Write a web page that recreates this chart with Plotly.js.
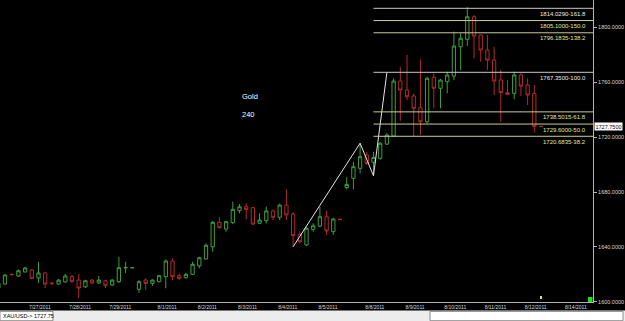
<!DOCTYPE html>
<html><head><meta charset="utf-8">
<script src="https://cdn.plot.ly/plotly-3.0.1.min.js"></script>
<style>html,body{margin:0;padding:0;background:#000;}#chart{width:625px;height:321px;}</style>
</head><body><div id="chart"></div>
<script>
// ---- data ----
const opens  = [1610.0,1612.9,1620.0,1618.7,1621.7,1623.1,1617.3,1621.0,1613.6,1612.9,
                1614.4,1618.3,1615.8,1610.9,1615.8,1613.7,1615.3,1612.2,1614.6,1624.6,
                1624.7,1609.1,1615.8,1613.4,1614.6,1618.3,1629.7,1619.0,1617.5,1620.0,
                1626.1,1631.2,1640.1,1657.9,1653.0,1657.7,1666.4,1669.3,1668.6,1657.2,
                1659.1,1666.2,1661.6,1670.5,1664.0,1649.2,1641.4,1652.8,1655.2,1662.0,
                1651.1,1660.2,1683.2,1690.0,1697.3,1707.0,1701.7,1704.6,1715.0,1720.9,
                1761.0,1754.4,1750.1,1741.5,1731.3,1763.7,1755.7,1760.5,1764.6,1786.0,
                1791.4,1807.9,1794.6,1783.6,1776.3,1761.7,1752.5,1752.0,1765.4,1758.1,
                1752.0,1727.9];
const highs  = [1614.2,1620.0,1620.4,1623.5,1625.5,1623.6,1629.0,1621.5,1614.3,1616.5,
                1620.2,1619.5,1620.2,1616.0,1616.5,1618.8,1616.0,1616.5,1632.8,1629.2,
                1625.2,1615.8,1617.1,1616.3,1619.5,1630.9,1631.7,1620.7,1621.2,1629.2,
                1632.8,1642.6,1658.9,1661.6,1658.9,1673.0,1671.3,1671.8,1669.3,1664.5,
                1669.3,1667.4,1671.5,1682.0,1665.4,1651.1,1654.7,1657.2,1669.3,1666.4,
                1661.0,1660.6,1690.8,1702.1,1715.6,1709.4,1709.4,1716.5,1722.9,1763.0,
                1771.4,1780.0,1752.0,1776.8,1764.1,1766.6,1762.5,1767.8,1797.0,1795.8,
                1814.8,1809.1,1795.0,1794.6,1786.0,1769.0,1761.7,1767.8,1766.6,1763.0,
                1758.1,1728.3];
const lows   = [1609.5,1612.4,1619.5,1618.2,1621.4,1616.8,1613.7,1610.0,1612.5,1612.5,
                1614.0,1614.0,1602.7,1610.0,1613.0,1613.0,1610.0,1611.5,1613.7,1621.0,
                1624.5,1606.6,1608.6,1611.5,1614.0,1609.8,1615.8,1615.8,1617.0,1619.5,
                1624.4,1630.8,1636.5,1653.5,1651.1,1656.7,1664.5,1660.1,1656.0,1656.7,
                1657.2,1659.6,1659.6,1659.6,1640.1,1642.6,1640.8,1651.1,1654.3,1648.7,
                1648.7,1659.6,1682.0,1682.0,1693.7,1699.7,1691.85,1703.5,1714.3,1720.4,
                1732.0,1747.1,1720.4,1721.6,1730.1,1741.1,1741.1,1752.0,1761.7,1769.0,
                1786.5,1777.6,1775.1,1769.0,1750.8,1731.3,1751.0,1747.7,1750.0,1743.5,
                1723.3,1727.5];
const closes = [1613.7,1619.5,1619.7,1622.6,1624.6,1617.1,1621.0,1612.9,1613.2,1615.8,
                1618.8,1614.6,1610.0,1615.3,1613.7,1615.8,1611.7,1615.8,1624.8,1625.0,
                1624.9,1614.6,1613.4,1615.8,1619.0,1629.7,1618.3,1617.1,1620.0,1627.3,
                1632.1,1641.2,1657.9,1654.0,1658.4,1667.4,1669.3,1667.4,1656.7,1659.6,
                1666.2,1661.6,1670.5,1663.3,1648.2,1643.8,1653.6,1655.4,1662.0,1651.6,
                1660.4,1659.9,1685.6,1698.5,1705.8,1700.9,1705.3,1715.6,1721.6,1761.0,
                1754.4,1749.5,1741.1,1731.3,1763.0,1755.7,1761.7,1765.4,1786.5,1792.2,
                1807.9,1793.8,1783.6,1776.3,1761.0,1752.5,1751.3,1765.4,1757.3,1750.8,
                1727.7,1727.75];

const dayLabels = ['7/27/2011','7/28/2011','7/29/2011','8/1/2011','8/2/2011','8/3/2011','8/4/2011',
                   '8/5/2011','8/8/2011','8/9/2011','8/10/2011','8/11/2011','8/12/2011','8/14/2011'];
const dayStarts = [5,11,17,24,30,36,42,48,55,61,67,73,79,85];

const priceTicks = [1600,1640,1680,1720,1760,1800];

const fibLevels = [1814.0290,1805.1000,1796.1835,1767.3500,1738.5015,1729.6000,1720.6835];
const fibRatios = ['161.8','150.0','138.2','100.0','61.8','50.0','38.2'];

const zigIdx   = [44,54,56,58];
const zigPrice = [1640.1,1715.6,1691.85,1767.35];

const symbol = 'XAU/USD';
const titleLines = ['Gold','240'];

// ---- drawing ----
const xIdx = closes.map((_, i) => i);
const xMin = 0.254, xMax = 88.76;
const last = closes.length - 1;
const FONT = 'Liberation Sans, Arial, sans-serif';

const candles = {
  type: 'candlestick', x: xIdx, open: opens, high: highs, low: lows, close: closes,
  increasing: {line: {color: '#3e9e3e', width: 1}, fillcolor: '#000000'},
  decreasing: {line: {color: '#b32b2b', width: 1}, fillcolor: '#000000'},
  whiskerwidth: 0, hoverinfo: 'skip', showlegend: false
};
const zig = {
  type: 'scatter', mode: 'lines', x: zigIdx, y: zigPrice,
  line: {color: '#e4e4e4', width: 1}, hoverinfo: 'skip', showlegend: false
};

const shapes = [];
const annotations = [];
fibLevels.forEach((lv, k) => {
  const strong = (fibRatios[k] === '161.8' || fibRatios[k] === '100.0');
  shapes.push({type: 'line', xref: 'x', yref: 'y', x0: zigIdx[2], x1: xMax, y0: lv, y1: lv,
               line: {color: strong ? '#c8c8c8' : '#cbcb98', width: 1}});
  annotations.push({xref: 'paper', yref: 'y', x: 588/593, y: lv, xanchor: 'right', yanchor: 'top',
                    yshift: -0.5, showarrow: false, text: lv.toFixed(4) + '-' + fibRatios[k],
                    font: {family: FONT, size: 6, color: strong ? '#eeeeee' : '#e6e69a'}});
});

// title text
annotations.push({xref: 'paper', yref: 'paper', x: 240/593, y: 1 - 97/302, xanchor: 'left', yanchor: 'middle',
                  showarrow: false, text: titleLines[0], font: {family: FONT, size: 7.5, color: '#ffffff'}});
annotations.push({xref: 'paper', yref: 'paper', x: 240/593, y: 1 - 114.5/302, xanchor: 'left', yanchor: 'middle',
                  showarrow: false, text: titleLines[1], font: {family: FONT, size: 7.5, color: '#ffffff'}});

// current price box
annotations.push({xref: 'paper', yref: 'y', x: 1, y: closes[last], xanchor: 'left', yanchor: 'middle', xshift: 1,
                  showarrow: false, text: closes[last].toFixed(4), bgcolor: '#ffffff', borderpad: 0.5,
                  font: {family: FONT, size: 5.5, color: '#000000'}});

// status bar
shapes.push({type: 'rect', xref: 'paper', yref: 'paper', x0: -0.01, x1: 1.06, y0: -0.07, y1: -0.028,
             fillcolor: '#ececec', line: {width: 0}, layer: 'above'});
shapes.push({type: 'rect', xref: 'paper', yref: 'paper', x0: 0.0, x1: 53/593, y0: -0.062, y1: -0.031,
             fillcolor: '#ffffff', line: {color: '#8c8c8c', width: 1}, layer: 'above'});
shapes.push({type: 'rect', xref: 'paper', yref: 'paper', x0: 430/593, x1: 623/593, y0: -0.062, y1: -0.031,
             fillcolor: '#ffffff', line: {color: '#8c8c8c', width: 1}, layer: 'above'});
annotations.push({xref: 'paper', yref: 'paper', x: 0.002, y: -(315.5-302)/302, xanchor: 'left', yanchor: 'middle',
                  showarrow: false, text: symbol + '-> ' + closes[last].toFixed(2),
                  font: {family: FONT, size: 5.5, color: '#000000'}});

// small markers
shapes.push({type: 'rect', xref: 'paper', yref: 'paper', x0: 588/593, x1: 592.5/593, y0: 0, y1: 5/302,
             fillcolor: '#19e019', line: {width: 0}});
shapes.push({type: 'rect', xref: 'x', yref: 'paper', x0: last - 0.15, x1: last + 0.15, y0: 3/302, y1: 6/302,
             fillcolor: '#e6e64a', line: {width: 0}});

const layout = {
  width: 625, height: 321,
  margin: {l: 0, r: 32, t: 0, b: 19, pad: 0},
  paper_bgcolor: '#000000', plot_bgcolor: '#000000',
  showlegend: false, dragmode: false,
  xaxis: {type: 'linear', range: [xMin, xMax], rangeslider: {visible: false},
          showgrid: false, zeroline: false, showline: true, linecolor: '#b4b4b4', linewidth: 1,
          tickvals: dayStarts.map(s => s + 1.2), ticktext: dayLabels, ticks: '',
          tickfont: {family: FONT, size: 5, color: '#d8d8d8'}, fixedrange: true},
  yaxis: {side: 'right', range: [1599.8, 1820.1], showgrid: false, zeroline: false,
          showline: true, linecolor: '#b4b4b4', linewidth: 1,
          ticks: 'outside', ticklen: 3, tickcolor: '#b4b4b4',
          tickvals: priceTicks, tickformat: '.4f',
          tickfont: {family: FONT, size: 5.5, color: '#d8d8d8'}, fixedrange: true},
  shapes: shapes, annotations: annotations
};

Plotly.newPlot('chart', [candles, zig], layout, {staticPlot: true, displayModeBar: false});
</script>
</body></html>
